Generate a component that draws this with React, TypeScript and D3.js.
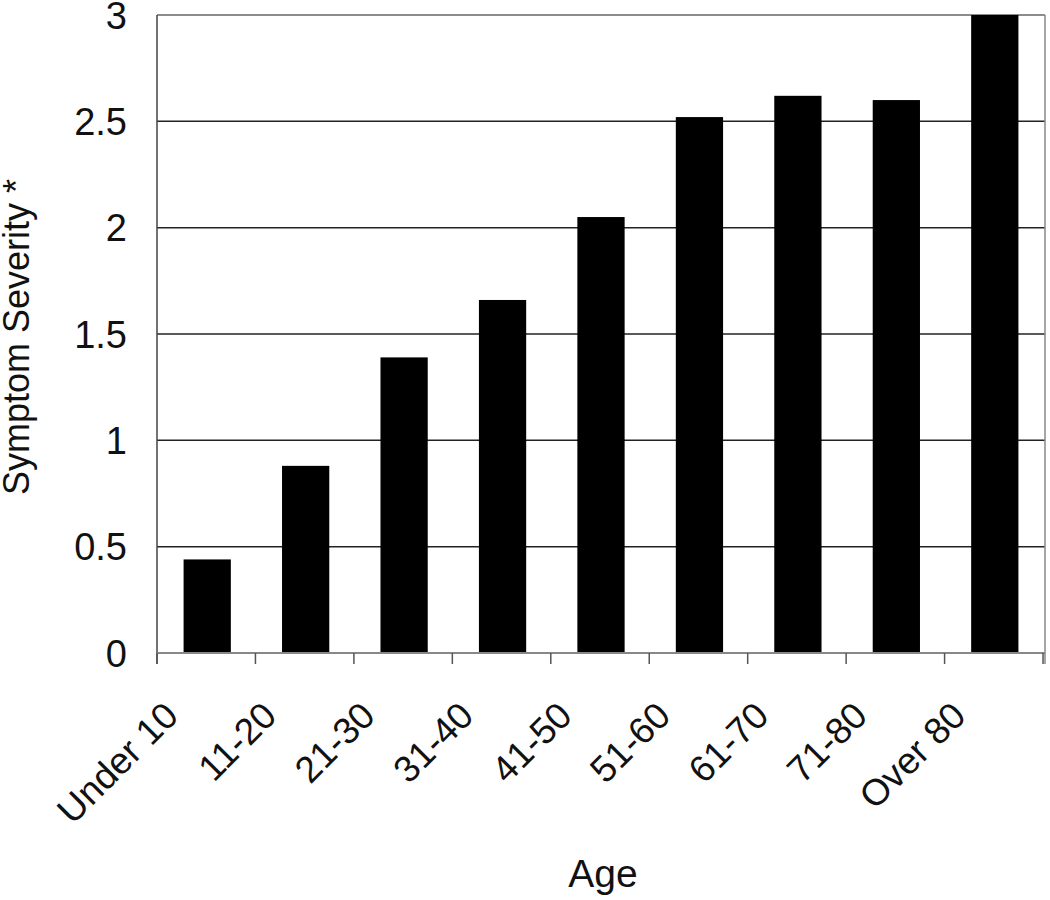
import React, { useEffect, useRef } from 'react';
import * as d3 from 'd3';

const ageGroups = ['Under 10', '11-20', '21-30', '31-40', '41-50', '51-60', '61-70', '71-80', 'Over 80'];
const severity = [0.44, 0.88, 1.39, 1.66, 2.05, 2.52, 2.62, 2.6, 3.0];
const yTicks = [0, 0.5, 1, 1.5, 2, 2.5, 3];

const App = () => {
  const ref = useRef<SVGSVGElement>(null);
  const dimension = { width: 1050, height: 900 };
  const margin = { top: 15, right: 5, bottom: 247, left: 157 };

  useEffect(() => {
    const svg = d3.select(ref.current);
    svg.selectAll('*').remove();
    svg
      .attr('width', dimension.width)
      .attr('height', dimension.height)
      .style('font-family', 'Liberation Sans, Arial, sans-serif')
      .style('background', '#fff');

    const innerW = dimension.width - margin.left - margin.right;
    const innerH = dimension.height - margin.top - margin.bottom;

    const x = d3.scaleBand().domain(ageGroups).range([0, innerW]).paddingInner(0.52).paddingOuter(0.27);
    const y = d3.scaleLinear().domain([0, 3]).range([innerH, 0]);

    const g = svg.append('g').attr('transform', `translate(${margin.left},${margin.top})`);

    // gridlines
    g.selectAll('line.grid')
      .data(yTicks.filter((t) => t > 0))
      .enter()
      .append('line')
      .attr('x1', 0)
      .attr('x2', innerW)
      .attr('y1', (d) => y(d))
      .attr('y2', (d) => y(d))
      .attr('stroke', (d) => (d === 3 ? '#666' : '#222'))
      .attr('stroke-width', 1.5);

    // right border
    g.append('line')
      .attr('x1', innerW)
      .attr('x2', innerW)
      .attr('y1', 0)
      .attr('y2', innerH + 11)
      .attr('stroke', '#888')
      .attr('stroke-width', 1.5);

    // bars
    g.selectAll('rect.bar')
      .data(severity)
      .enter()
      .append('rect')
      .attr('x', (_d, i) => x(ageGroups[i]) as number)
      .attr('y', (d) => y(d))
      .attr('width', x.bandwidth())
      .attr('height', (d) => innerH - y(d))
      .attr('fill', '#000');

    // y axis
    g.append('line')
      .attr('x1', 0)
      .attr('x2', 0)
      .attr('y1', 0)
      .attr('y2', innerH + 11)
      .attr('stroke', '#444')
      .attr('stroke-width', 1.5);
    g.selectAll('text.ytick')
      .data(yTicks)
      .enter()
      .append('text')
      .attr('x', -30)
      .attr('y', (d) => y(d))
      .attr('dy', '0.36em')
      .attr('text-anchor', 'end')
      .attr('font-size', 38)
      .attr('fill', '#111')
      .text((d) => String(d));

    // x axis
    g.append('line')
      .attr('x1', 0)
      .attr('x2', innerW)
      .attr('y1', innerH)
      .attr('y2', innerH)
      .attr('stroke', '#888')
      .attr('stroke-width', 2);
    const step = x.step();
    g.selectAll('line.xtick')
      .data(d3.range(ageGroups.length + 1))
      .enter()
      .append('line')
      .attr('x1', (i) => i * step)
      .attr('x2', (i) => i * step)
      .attr('y1', innerH)
      .attr('y2', innerH + 11)
      .attr('stroke', '#555')
      .attr('stroke-width', 1.5);

    g.selectAll('text.xlabel')
      .data(ageGroups)
      .enter()
      .append('text')
      .attr('text-anchor', 'end')
      .attr('font-size', 37)
      .attr('fill', '#111')
      .attr('transform', (d) => {
        const cx = (x(d) as number) + x.bandwidth() / 2 - 27;
        return `translate(${cx},${innerH + 65}) rotate(-45)`;
      })
      .text((d) => d);

    // axis titles
    svg
      .append('text')
      .attr('x', 603)
      .attr('y', 887)
      .attr('text-anchor', 'middle')
      .attr('font-size', 39)
      .attr('fill', '#111')
      .text('Age');

    svg
      .append('text')
      .attr('transform', 'translate(29,337) rotate(-90)')
      .attr('text-anchor', 'middle')
      .attr('font-size', 36)
      .attr('fill', '#111')
      .text('Symptom Severity *');
  }, []);

  return (
    <div>
      <svg ref={ref} style={{ position: 'absolute', left: 0, top: 0 }}></svg>
    </div>
  );
};

export default App;
